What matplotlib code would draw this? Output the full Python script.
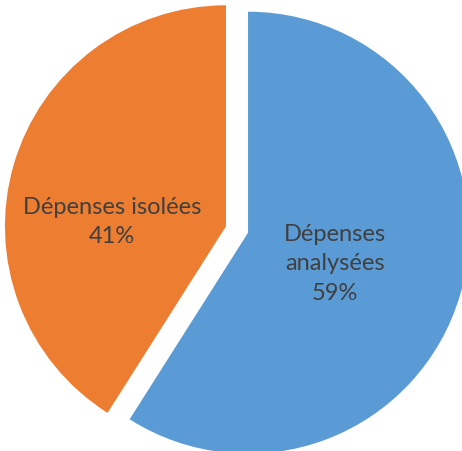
import matplotlib
matplotlib.use("Agg")
import matplotlib.pyplot as plt

categories = ["Dépenses\nanalysées", "Dépenses isolées"]
values = [59, 41]
colors = ["#5B9BD5", "#ED7D31"]
explode = [0.052, 0.052]

W, H = 462, 452
R = 221.0
cx, cy = 237.0, 230.5

fig = plt.figure(figsize=(W / 100, H / 100), dpi=100)
ax = fig.add_axes([0, 0, 1, 1])
ax.pie(values, colors=colors, explode=explode, startangle=90, counterclock=False,
       radius=1, center=(0, 0), wedgeprops=dict(linewidth=0))
ax.set_xlim(-cx / R, (W - cx) / R)
ax.set_ylim(-(H - cy) / R, cy / R)
ax.set_aspect("equal")
ax.axis("off")

def px(x, y):
    return (x - cx) / R, (cy - y) / R

label_pos = [px(335, 264), px(112, 222)]
for cat, v, (lx, ly) in zip(categories, values, label_pos):
    ax.text(lx, ly, f"{cat}\n{v}%", ha="center", va="center", fontsize=17,
            color="#404040", family="Lato", linespacing=1.5)

fig.savefig("out.png", dpi=100)
